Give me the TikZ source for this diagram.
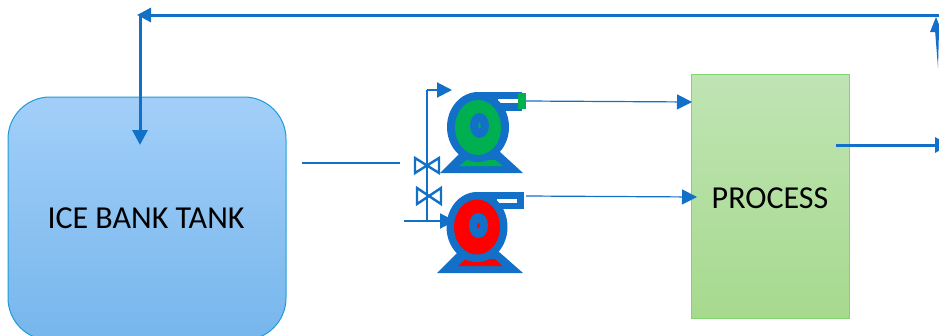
\documentclass[tikz,border=0pt]{standalone}
\usepackage{fontspec}
\setmainfont{Carlito}
\usetikzlibrary{arrows.meta}
\definecolor{pipeblue}{HTML}{1270C8}
\definecolor{pumpgreen}{HTML}{00B050}
\definecolor{tanktop}{HTML}{A2CFF9}
\definecolor{tankbot}{HTML}{76B6EC}
\definecolor{tankline}{HTML}{1E9CD6}
\definecolor{proctop}{HTML}{C0E4B4}
\definecolor{procbot}{HTML}{A6DA8E}
\definecolor{procline}{HTML}{82D46E}
\begin{document}
\begin{tikzpicture}[x=1pt,y=-1pt,
  pipe/.style={draw=pipeblue,line width=2pt},
  thin pipe/.style={draw=pipeblue,line width=1.2pt},
  thick pipe/.style={draw=pipeblue,line width=3pt},
  head/.style={-{Triangle[length=15pt,width=15pt,fill=pipeblue]}},
  valve/.style={draw=pipeblue,line width=2.4pt},
  lbl/.style={font=\fontsize{32}{38}\selectfont,text=black}]
\useasboundingbox (0,0) rectangle (939,335);
\begin{scope}
\clip (0,0) rectangle (939,335);
% tank
\draw[draw=tankline,line width=1pt,top color=tanktop,bottom color=tankbot,rounded corners=42pt] (8,97) rectangle (286,340);
\node[lbl] (tank) at (146,218) {ICE BANK TANK};
% process
\draw[draw=procline,line width=1pt,top color=proctop,bottom color=procbot] (691,74) rectangle (849,318);
\node[lbl] (process) at (770,198) {PROCESS};
\coordinate (topR) at (939,15);
\coordinate (topL) at (140,15);
\coordinate (tankIn) at (140,145);
\coordinate (procOut) at (836,145);
\coordinate (rightEnd) at (950,145);
\coordinate (feed) at (302,163);
\coordinate (feedEnd) at (400,163);
\draw[thick pipe,-{Triangle[length=14pt,width=14pt,fill=pipeblue]}] (topR) -- (137,15);
\draw[thick pipe,-{Triangle[length=15pt,width=15pt,fill=pipeblue]}] (topL) -- (tankIn);
\draw[thick pipe,-{Triangle[length=15pt,width=15pt,fill=pipeblue]}] (procOut) -- (rightEnd);
\fill[pipeblue] (936,17) -- (942,32) -- (930,32) -- cycle;
\fill[pipeblue] (935,30) -- (939,30) -- (938,68) -- cycle;
\draw[pipe] (feed) -- (feedEnd);
% pump 1
\coordinate (p1out) at (526,101);
\coordinate (p1proc) at (692,102);
\fill[pipeblue] (440,173) -- (459,154) -- (500,152) -- (523,173) -- cycle;
\fill[pumpgreen] (459,166) -- (467,160) -- (495,160) -- (503,166) -- cycle;
\fill[pipeblue] (478,92) rectangle (522,111);
\fill[white] (498,99) rectangle (518,103);
\fill[pumpgreen] (518,93) rectangle (526,109);
\fill[pipeblue] (478,127) ellipse [x radius=31, y radius=35];
\fill[pumpgreen] (478,127.5) ellipse [x radius=23, y radius=27.5];
\fill[pipeblue] (479.5,125.5) ellipse [x radius=9.5, y radius=12.5];
\fill[pumpgreen] (479.5,125.5) ellipse [x radius=1.2, y radius=3];
\draw[thin pipe,head] (p1out) -- (p1proc);
% pump 2
\coordinate (p2out) at (526,196);
\coordinate (p2proc) at (697,197);
\fill[pipeblue] (437,273) -- (459,251) -- (498,251) -- (523,273) -- cycle;
\fill[red] (458,266) -- (466,259) -- (495,259) -- (502,266) -- cycle;
\fill[pipeblue] (478,192) rectangle (524,209);
\fill[white] (497,199) rectangle (517,203);
\fill[pipeblue] (477,227) ellipse [x radius=30.5, y radius=35];
\fill[red] (477,227) ellipse [x radius=23, y radius=27.5];
\fill[pipeblue] (478.5,225.5) ellipse [x radius=9.5, y radius=12.5];
\fill[red] (478.5,225.5) ellipse [x radius=1.2, y radius=3];
\draw[thin pipe,head] (p2out) -- (p2proc);
% valve pipes
\coordinate (vb) at (427,221);
\coordinate (vt) at (427,90);
\coordinate (vtEnd) at (452,90);
\coordinate (inL) at (404,221);
\coordinate (inEnd) at (455,221);
\draw[pipe] (vb) -- (vt);
\draw[pipe,-{Triangle[length=15pt,width=15pt,fill=pipeblue]}] (vt) -- (vtEnd);
\draw[pipe,-{Triangle[length=15pt,width=15pt,fill=pipeblue]}] (inL) -- (inEnd);
% valves
\draw[valve] (415,158) -- (439,173) -- (439,158) -- (415,173) -- cycle;
\draw[valve] (417,188) -- (441,204) -- (441,188) -- (417,204) -- cycle;
\end{scope}
\end{tikzpicture}
\end{document}
